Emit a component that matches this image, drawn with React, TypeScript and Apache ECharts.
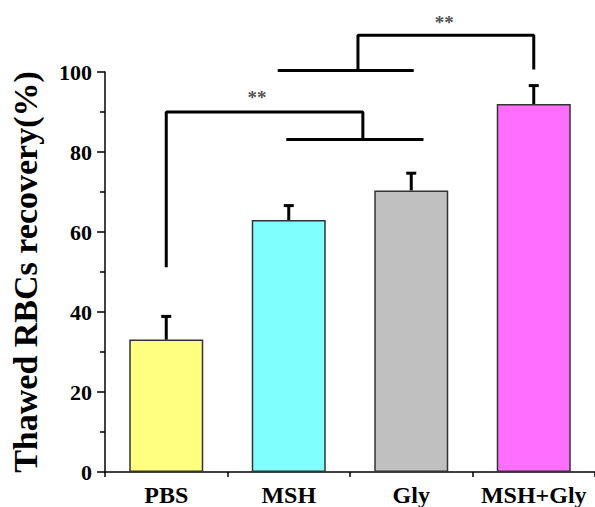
import React, { useEffect, useRef } from "react";
import * as echarts from "echarts";

const categories = ["PBS", "MSH", "Gly", "MSH+Gly"];
const recovery = [33.1, 63.0, 70.4, 92.0];
const errors = [5.8, 3.6, 4.3, 4.6];
const barColors = ["#FFFF80", "#80FFFF", "#C0C0C0", "#FF6EFF"];
const yTicks = { min: 0, max: 100, interval: 20 };

// significance brackets in (category position, value) units
const bracketLow = [[0, 51.2], [0, 90], [1.605, 90], [1.605, 83.1]];
const bracketLowBase = [[0.98, 83.1], [2.1, 83.1]];
const bracketHigh = [[1.565, 100.4], [1.565, 109.2], [3.0, 109.2], [3.0, 100.6]];
const bracketHighBase = [[0.91, 100.4], [2.02, 100.4]];
const stars = [[0.74, 93.6], [2.27, 112.4]];

const FONT = '"Times New Roman", "Liberation Serif", serif';

export default function App() {
  const ref = useRef<HTMLDivElement>(null);
  useEffect(() => {
    document.body.style.margin = "0";
    const chart = echarts.init(ref.current!, null, { renderer: "svg" });
    const bracketSeries = (data: number[][]) => ({
      type: "line",
      xAxisIndex: 2,
      data,
      symbol: "none",
      clip: false,
      silent: true,
      lineStyle: { color: "#000", width: 3 },
      z: 5,
    });
    chart.setOption({
      animation: false,
      backgroundColor: "#fff",
      grid: { left: 101, right: 0, top: 72, height: 400 },
      xAxis: [
        {
          type: "category",
          data: categories,
          position: "bottom",
          axisLine: { onZero: false, lineStyle: { color: "#000", width: 1.5 } },
          axisTick: { alignWithLabel: true, length: 8, lineStyle: { color: "#000", width: 1.5 } },
          axisLabel: {
            interval: 0,
            color: "#000",
            fontFamily: FONT,
            fontWeight: "bold",
            fontSize: 24,
            margin: 11,
          },
        },
        {
          type: "category",
          data: categories,
          position: "bottom",
          axisLine: { show: false, onZero: false },
          axisTick: { show: true, interval: 0, length: 5, lineStyle: { color: "#000", width: 1.5 } },
          axisLabel: { show: false },
        },
        { type: "value", min: -0.5, max: 3.5, show: false, axisLine: { onZero: false } },
      ],
      yAxis: {
        type: "value",
        min: yTicks.min,
        max: yTicks.max,
        interval: yTicks.interval,
        name: "Thawed RBCs recovery(%)",
        nameLocation: "middle",
        nameGap: 63,
        nameTextStyle: { color: "#000", fontFamily: FONT, fontWeight: "bold", fontSize: 34 },
        axisLine: { show: true, onZero: false, lineStyle: { color: "#000", width: 1.5 } },
        axisTick: { show: true, length: 8, lineStyle: { color: "#000", width: 1.5 } },
        minorTick: { show: true, splitNumber: 2, length: 5, lineStyle: { color: "#000", width: 1.5 } },
        splitLine: { show: false },
        axisLabel: { color: "#000", fontFamily: FONT, fontWeight: "bold", fontSize: 22, margin: 13 },
      },
      series: [
        {
          type: "bar",
          barWidth: 74,
          data: recovery.map((v, i) => ({
            value: v,
            itemStyle: { color: barColors[i], borderColor: "#333", borderWidth: 1.5 },
          })),
        },
        {
          type: "custom",
          data: recovery.map((v, i) => [i, v, errors[i]]),
          z: 4,
          renderItem: (params: any, api: any) => {
            const x = api.value(0);
            const v = api.value(1);
            const e = api.value(2);
            const p0 = api.coord([x, v]);
            const p1 = api.coord([x, v + e]);
            const style = { stroke: "#000", lineWidth: 3 };
            return {
              type: "group",
              children: [
                { type: "line", shape: { x1: p0[0], y1: p0[1], x2: p1[0], y2: p1[1] }, style },
                { type: "line", shape: { x1: p1[0] - 5, y1: p1[1], x2: p1[0] + 5, y2: p1[1] }, style },
              ],
            };
          },
        },
        bracketSeries(bracketLow),
        bracketSeries(bracketLowBase),
        bracketSeries(bracketHigh),
        bracketSeries(bracketHighBase),
        {
          type: "scatter",
          xAxisIndex: 2,
          data: stars,
          symbolSize: 1,
          clip: false,
          silent: true,
          itemStyle: { color: "rgba(0,0,0,0)" },
          label: {
            show: true,
            position: "inside",
            formatter: "**",
            color: "#222",
            fontFamily: FONT,
            fontWeight: "bold",
            fontSize: 19,
          },
          z: 6,
        },
      ],
    });
    return () => chart.dispose();
  }, []);
  return <div ref={ref} style={{ width: 595, height: 507 }} />;
}
